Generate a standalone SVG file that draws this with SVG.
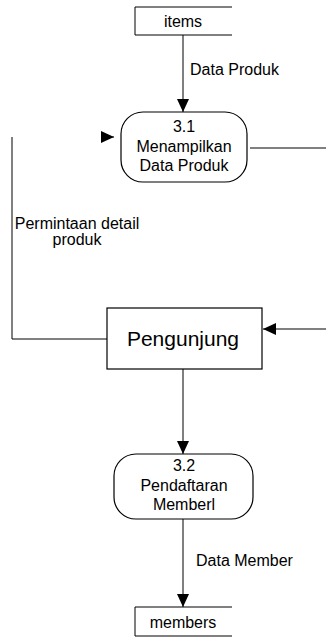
<svg xmlns="http://www.w3.org/2000/svg" width="326" height="637" viewBox="0 0 326 637">
<style>
.ln{stroke:#000;stroke-width:1;fill:none}
.box{stroke:#000;stroke-width:1.2;fill:#fff}
.t{font-family:"Liberation Sans",Arial,sans-serif;font-size:16px;fill:#000}
.c{text-anchor:middle}
.big{font-size:21px}
</style>
<defs>
<marker id="arr" viewBox="0 0 13 12" refX="13" refY="6" markerWidth="13" markerHeight="12" markerUnits="userSpaceOnUse" orient="auto">
<path d="M0,0 L13,6 L0,12 z" fill="#000"/>
</marker>
</defs>
<rect width="326" height="637" fill="#fff"/>
<g id="connectors">
<path class="ln" d="M183,35 L183,112" marker-end="url(#arr)"/>
<path class="ln" d="M104,137 L114,137" marker-end="url(#arr)"/>
<path class="ln" d="M12,137 L12,339 L107,339"/>
<path class="ln" d="M250,148 L326,148"/>
<path class="ln" d="M326,329 L263,329" marker-end="url(#arr)"/>
<path class="ln" d="M183,369 L183,454" marker-end="url(#arr)"/>
<path class="ln" d="M183,519 L183,607" marker-end="url(#arr)"/>
<text class="t" x="190" y="75">Data Produk</text>
<text class="t c" x="77" y="229">Permintaan detail</text>
<text class="t c" x="77" y="245">produk</text>
<text class="t" x="196" y="566">Data Member</text>
</g>
<g id="items">
<path class="ln" d="M232,7 L135,7 L135,35 L232,35"/>
<text class="t c" x="183" y="27">items</text>
</g>
<g id="p31">
<rect class="box" x="121" y="112" width="126" height="70" rx="22" ry="22"/>
<text class="t c" x="184" y="132">3.1</text>
<text class="t c" x="184" y="152">Menampilkan</text>
<text class="t c" x="184" y="171">Data Produk</text>
</g>
<g id="pengunjung">
<rect class="box" x="107" y="308" width="155" height="61"/>
<text class="t c big" x="183" y="346">Pengunjung</text>
</g>
<g id="p32">
<rect class="box" x="114" y="454" width="139" height="65" rx="22" ry="22"/>
<text class="t c" x="184" y="471">3.2</text>
<text class="t c" x="184" y="491">Pendaftaran</text>
<text class="t c" x="184" y="510">Memberl</text>
</g>
<g id="members">
<path class="ln" d="M232,607 L135,607 L135,636 L232,636"/>
<text class="t c" x="183" y="628">members</text>
</g>
</svg>
